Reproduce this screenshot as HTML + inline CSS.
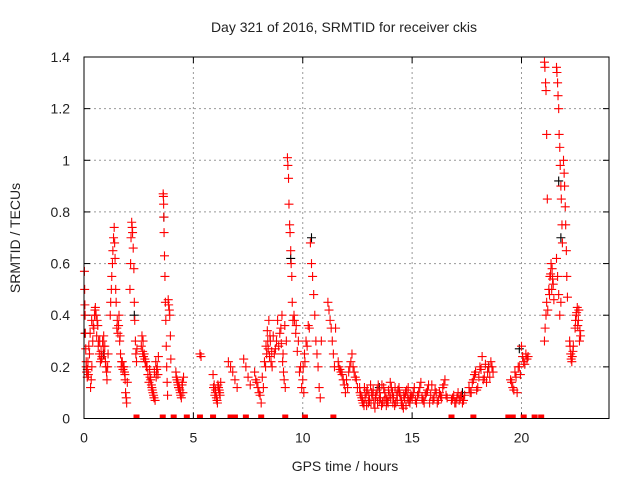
<!DOCTYPE html>
<html><head><meta charset="utf-8"><style>
body{margin:0;background:#fff;}
svg text{font-family:"Liberation Sans",sans-serif;fill:#222;}
</style></head><body>
<svg id="chart" width="640" height="480">
<rect width="640" height="480" fill="#fff"/>
<text x="344" y="32" font-size="14" text-anchor="middle">Day 321 of 2016, SRMTID for receiver ckis</text>
<text x="345" y="471" font-size="14" text-anchor="middle">GPS time / hours</text>
<text transform="translate(20,238) rotate(-90)" font-size="14" text-anchor="middle">SRMTID / TECUs</text>
<g id="grid"></g><g id="ticks"></g><g id="marks"></g>
<rect x="84" y="57" width="525" height="361.5" fill="none" stroke="#000" stroke-width="1"/>
</svg>
<script>
const xTicks=[0,5,10,15,20];
const yTicks=[0,0.2,0.4,0.6,0.8,1,1.2,1.4];
const yTickLabels=["0","0.2","0.4","0.6","0.8","1","1.2","1.4"];
const redTimes=[0.02,0.03,0.04,0.05,0.06,0.08,0.1,0.12,0.15,0.18,0.2,0.25,
0.3,0.33,0.36,0.4,0.45,0.5,0.52,0.55,0.6,0.63,0.67,0.7,0.75,0.8,0.85,
0.9,0.95,1.0,1.05,1.1,
1.2,1.22,1.25,1.27,1.3,1.32,1.35,1.38,1.4,1.42,1.45,1.47,
1.5,1.55,1.6,1.63,1.67,1.7,1.75,
1.8,1.85,1.88,1.9,1.93,1.95,1.98,
2.1,2.13,2.15,2.18,2.2,2.22,2.25,2.28,2.3,2.32,2.35,2.37,2.4,2.42,
2.65,2.7,2.75,2.8,2.85,
3.0,3.05,3.1,3.15,3.2,3.25,3.3,3.35,3.4,
3.62,3.63,3.64,3.65,3.66,3.68,3.7,3.72,3.74,3.76,3.78,3.8,3.82,
3.85,3.87,3.9,3.92,3.95,3.97,
4.2,4.25,4.3,4.35,4.4,4.45,4.5,4.55,
5.3,5.35,
5.9,5.95,6.0,6.05,6.1,6.15,6.2,6.25,
6.6,6.7,6.8,6.9,7.0,
7.3,7.4,7.5,7.6,
7.8,7.9,8.0,8.1,8.2,8.3,8.35,8.4,8.45,8.5,8.55,
8.6,8.7,8.8,8.9,9.0,9.05,9.1,9.15,9.2,9.25,
9.3,9.32,9.35,9.37,9.4,9.42,9.45,9.47,9.5,9.52,9.55,
9.6,9.7,9.8,9.9,10.0,10.05,10.1,10.2,10.3,
10.35,10.4,10.45,10.5,10.55,10.6,10.65,10.7,10.75,10.8,10.85,
11.15,11.2,11.25,11.3,11.35,11.4,11.45,11.5,
11.65,11.75,11.85,11.95,12.05,12.15,12.25,12.35,12.45,
12.6,12.7,12.8,12.9,13.0,13.1,13.2,13.3,13.4,13.5,13.6,13.7,13.8,13.9,14.0,14.1,14.2,14.3,14.4,14.5,14.6,14.7,14.8,14.9,
15.0,15.1,15.2,15.3,15.4,15.5,15.6,15.7,15.8,15.9,16.0,16.1,16.2,16.3,16.4,16.5,16.6,
16.8,16.9,17.0,17.1,17.2,17.3,17.4,
17.6,17.7,17.8,17.9,18.0,18.1,18.2,18.3,18.4,18.5,18.6,18.7,
19.5,19.6,19.7,19.8,19.9,20.0,20.1,20.2,20.3,
21.05,21.07,21.1,21.12,21.15,21.18,21.05,21.08,21.12,21.15,
21.25,21.3,21.35,21.4,21.45,
21.6,21.62,21.65,21.67,21.7,21.72,21.75,21.77,21.8,21.82,21.85,21.87,21.6,21.65,21.7,21.75,21.8,
21.92,21.95,21.97,22.0,22.02,22.05,22.07,22.1,
22.2,22.25,22.3,22.35,
22.45,22.5,22.55,22.6,22.65,22.7];
const redValues=[0.57,0.5,0.44,0.4,0.33,0.27,0.2,0.18,0.19,0.22,0.17,0.25,
0.12,0.15,0.2,0.3,0.35,0.42,0.43,0.4,0.38,0.36,0.3,0.25,0.22,0.23,0.3,
0.32,0.28,0.2,0.15,0.25,
0.4,0.45,0.5,0.55,0.6,0.65,0.7,0.74,0.68,0.62,0.5,0.45,
0.35,0.33,0.4,0.3,0.25,0.2,0.22,
0.2,0.18,0.15,0.1,0.08,0.06,0.14,
0.5,0.6,0.7,0.76,0.74,0.72,0.66,0.58,0.45,0.38,0.3,0.25,0.22,0.27,
0.32,0.3,0.25,0.22,0.2,
0.19,0.15,0.12,0.1,0.08,0.07,0.16,0.2,0.24,
0.87,0.86,0.83,0.78,0.72,0.63,0.55,0.45,0.38,0.28,0.2,0.14,0.09,
0.46,0.44,0.42,0.4,0.32,0.23,
0.18,0.15,0.13,0.12,0.1,0.08,0.14,0.16,
0.25,0.24,
0.17,0.13,0.1,0.08,0.06,0.12,0.1,0.14,
0.22,0.2,0.18,0.15,0.12,
0.23,0.2,0.16,0.13,
0.18,0.14,0.1,0.06,0.12,0.2,0.25,0.3,0.38,0.32,0.22,
0.2,0.25,0.3,0.28,0.35,0.4,0.25,0.15,0.12,0.3,
1.01,0.98,0.93,0.83,0.75,0.72,0.65,0.6,0.55,0.45,0.38,
0.4,0.36,0.3,0.2,0.15,0.1,0.22,0.28,0.35,
0.68,0.6,0.55,0.48,0.4,0.3,0.25,0.2,0.12,0.08,0.3,
0.45,0.42,0.38,0.35,0.3,0.25,0.2,0.35,
0.2,0.18,0.15,0.1,0.12,0.2,0.25,0.18,0.15,
0.12,0.08,0.05,0.1,0.06,0.13,0.09,0.04,0.11,0.07,0.05,0.12,0.08,0.06,0.14,0.1,0.05,0.09,0.12,0.07,0.04,0.1,0.08,0.06,
0.08,0.12,0.06,0.1,0.14,0.07,0.09,0.11,0.06,0.13,0.08,0.1,0.07,0.09,0.12,0.15,0.08,
0.07,0.09,0.06,0.1,0.08,0.06,0.09,
0.12,0.1,0.15,0.18,0.12,0.2,0.24,0.16,0.14,0.2,0.22,0.18,
0.15,0.12,0.18,0.1,0.2,0.28,0.22,0.25,0.24,
1.38,1.36,1.3,1.27,1.1,0.85,0.3,0.35,0.4,0.45,
0.5,0.55,0.6,0.58,0.52,
1.36,1.34,1.3,1.25,1.2,1.1,1.05,0.98,0.9,0.85,0.75,0.68,0.62,0.55,0.48,0.4,0.45,
1.0,0.95,0.9,0.82,0.75,0.65,0.55,0.47,
0.3,0.25,0.22,0.26,
0.35,0.4,0.43,0.38,0.3,0.32];
const extraTimes=[0.1,0.15,0.22,0.28,0.35,0.42,0.48,0.58,0.65,0.72,0.78,0.82,0.88,0.93,0.98,1.03,1.08,
1.52,1.58,1.65,1.72,1.78,1.83,1.87,
2.62,2.68,2.72,2.78,2.82,2.88,2.92,2.97,3.02,3.08,3.12,3.18,3.22,3.28,3.32,3.38,
4.22,4.28,4.32,4.38,4.42,4.48,4.52,
5.92,5.98,6.02,6.08,6.12,6.18,6.22,
7.85,7.95,8.05,8.15,8.25,8.32,8.38,8.42,8.48,8.52,8.58,8.65,8.75,8.85,8.95,9.02,9.08,9.12,9.18,
9.62,9.68,9.75,9.85,9.95,10.02,10.08,10.15,10.25,
11.62,11.7,11.8,11.9,12.0,12.1,12.2,12.3,12.4,12.5,
12.65,12.75,12.85,12.95,13.05,13.15,13.25,13.35,13.45,13.55,13.65,13.75,13.85,13.95,14.05,14.15,14.25,14.35,14.45,14.55,14.65,14.75,14.85,14.95,
12.62,12.72,12.82,12.92,13.02,13.12,13.22,13.32,13.42,13.52,13.62,13.72,13.82,13.92,14.02,14.12,14.22,14.32,14.42,14.52,14.62,14.72,14.82,14.92,
15.05,15.15,15.25,15.35,15.45,15.55,15.65,15.75,15.85,15.95,16.05,16.15,16.25,16.35,16.45,16.55,
16.85,16.95,17.05,17.15,17.25,17.35,
17.65,17.75,17.85,17.95,18.05,18.15,18.25,18.35,18.45,18.55,18.65,
19.55,19.65,19.75,19.85,19.95,20.05,20.15,20.25,
21.2,21.28,21.33,21.38,21.42,21.48,
22.22,22.27,22.32,22.37,22.47,22.52,22.57,22.62,22.67];
const extraValues=[0.22,0.16,0.28,0.33,0.38,0.36,0.4,0.32,0.28,0.3,0.26,0.24,0.28,0.25,0.22,0.18,0.2,
0.38,0.36,0.32,0.22,0.19,0.2,0.17,
0.28,0.26,0.24,0.23,0.22,0.2,0.17,0.14,0.16,0.13,0.11,0.09,0.18,0.22,0.19,0.17,
0.16,0.14,0.12,0.11,0.09,0.13,0.1,
0.12,0.09,0.11,0.07,0.13,0.11,0.09,
0.15,0.12,0.09,0.16,0.22,0.28,0.34,0.27,0.24,0.3,0.26,0.32,0.27,0.38,0.33,0.29,0.22,0.18,0.36,
0.38,0.33,0.26,0.18,0.12,0.2,0.25,0.3,0.36,
0.22,0.19,0.17,0.13,0.15,0.18,0.22,0.2,0.16,0.12,
0.09,0.06,0.08,0.11,0.07,0.1,0.06,0.09,0.13,0.08,0.06,0.1,0.07,0.09,0.12,0.08,0.06,0.11,0.09,0.05,0.08,0.11,0.07,0.09,
0.1,0.07,0.12,0.05,0.09,0.06,0.11,0.08,0.06,0.1,0.13,0.07,0.05,0.11,0.08,0.06,0.12,0.07,0.1,0.06,0.09,0.05,0.12,0.08,
0.1,0.07,0.09,0.12,0.08,0.06,0.1,0.13,0.09,0.07,0.11,0.06,0.1,0.08,0.13,0.09,
0.08,0.06,0.08,0.07,0.09,0.07,
0.1,0.14,0.17,0.11,0.16,0.19,0.15,0.21,0.18,0.16,0.2,
0.14,0.11,0.16,0.2,0.17,0.24,0.21,0.23,
0.42,0.48,0.56,0.5,0.54,0.46,
0.28,0.23,0.24,0.28,0.38,0.41,0.36,0.42,0.34];
const blackTimes=[0.05,0.9,2.3,3.65,9.45,10.4,13.5,17.3,18.5,19.9,21.7,21.8];
const blackValues=[0.33,0.25,0.4,0.78,0.62,0.7,0.12,0.1,0.2,0.27,0.92,0.7];
const zeroTimes=[2.4,3.6,4.1,4.7,5.3,5.9,6.7,6.9,7.4,8.1,9.2,10.1,11.4,16.8,17.8,19.4,19.6,20.1,20.6,20.9];

const X0=84,X1=609,Y0=418.5,Y1=57,XMAX=24,YMAX=1.4;
const xs=t=>X0+(X1-X0)*t/XMAX;
const ys=v=>Y0-(Y0-Y1)*v/YMAX;
const NS='http://www.w3.org/2000/svg';
const grid=document.getElementById('grid'),ticks=document.getElementById('ticks'),marks=document.getElementById('marks');
function mk(tag,attrs,parent){const e=document.createElementNS(NS,tag);for(const k in attrs)e.setAttribute(k,attrs[k]);parent.appendChild(e);return e;}
xTicks.forEach(t=>{
  const x=xs(t);
  if(t>0){const g=mk('line',{x1:x,y1:Y1,x2:x,y2:Y0,stroke:'#999','stroke-dasharray':'2,3'},grid);
  
  }
  mk('line',{x1:x,y1:Y0,x2:x,y2:Y0-6,stroke:'#000'},ticks);
  mk('line',{x1:x,y1:Y1,x2:x,y2:Y1+6,stroke:'#000'},ticks);
  const l=mk('text',{x:x,y:Y0+24,'font-size':14,'text-anchor':'middle'},ticks);l.textContent=t;
  
  
});
yTicks.forEach((v,i)=>{
  const y=ys(v);
  if(v>0&&v<YMAX){const g=mk('line',{x1:X0,y1:y,x2:X1,y2:y,stroke:'#999','stroke-dasharray':'2,3'},grid);
  
  }
  mk('line',{x1:X0,y1:y,x2:X0+6,y2:y,stroke:'#000'},ticks);
  mk('line',{x1:X1,y1:y,x2:X1-6,y2:y,stroke:'#000'},ticks);
  const l=mk('text',{x:X0-14,y:y+5,'font-size':14,'text-anchor':'end'},ticks);l.textContent=yTickLabels[i];
  
  
});
function plus(t,v,col,name){
  const x=xs(t),y=ys(v);
  const p=mk('path',{d:`M${x-4.5},${y}H${x+4.5}M${x},${y-4.5}V${y+4.5}`,stroke:col,'stroke-width':1.1,fill:'none'},marks);
  
  
}
blackTimes.forEach((t,i)=>plus(t,blackValues[i],'#000','black-point'));
redTimes.forEach((t,i)=>plus(t,redValues[i],'#f00','red-point'));
extraTimes.forEach((t,i)=>plus(t,extraValues[i],'#f00','red-point'));
zeroTimes.forEach(t=>{
  const r=mk('rect',{x:xs(t)-3,y:Y0-4,width:6,height:4,fill:'#f00'},marks);
  
  
});
</script>
</body></html>
